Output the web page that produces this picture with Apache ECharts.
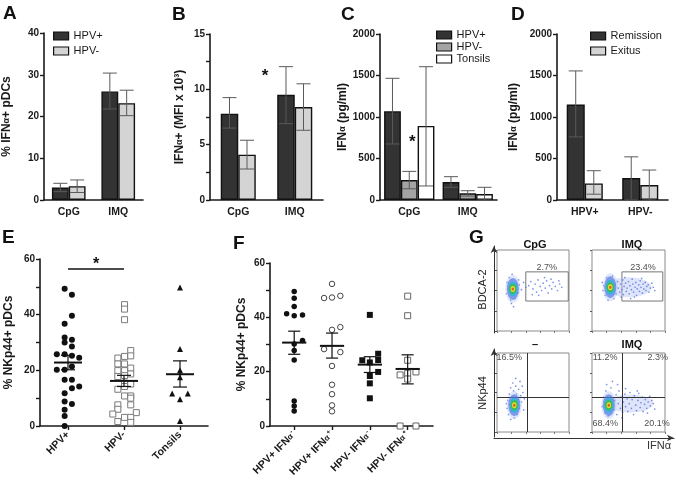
<!DOCTYPE html>
<html><head><meta charset="utf-8">
<script src="https://cdn.jsdelivr.net/npm/echarts@6/dist/echarts.min.js"></script>
<style>html,body{margin:0;padding:0;background:#fff}#c{width:676px;height:484px}</style>
</head><body><div id="c"></div>
<script>
// ---------------- DATA ----------------
const barCats = ['CpG', 'IMQ'];
const aHpvPos = [3.0, 26.0];
const aHpvPosErr = [[2.0, 4.0], [21.8, 30.4]];
const aHpvNeg = [3.3, 23.2];
const aHpvNegErr = [[1.8, 4.8], [20.2, 26.3]];

const bHpvPos = [7.8, 9.5];
const bHpvPosErr = [[6.5, 9.25], [6.9, 12.05]];
const bHpvNeg = [4.1, 8.4];
const bHpvNegErr = [[2.8, 5.4], [6.3, 10.5]];

const cHpvPos = [1070, 217];
const cHpvPosErr = [[675, 1466], [153, 281]];
const cHpvNeg = [240, 80];
const cHpvNegErr = [[135, 345], [48, 112]];
const cTonsils = [892, 72];
const cTonsilsErr = [[169, 1606], [0, 153]];

const dCats = ['HPV+', 'HPV-'];
const dRemission = [1150, 265];
const dRemissionErr = [[760, 1555], [10, 520]];
const dExitus = [200, 181];
const dExitusErr = [[70, 353], [0, 361]];

const eCats = ['HPV+', 'HPV-', 'Tonsils'];
// [jitter offset, value]
const eHpvPos = [[-0.06,49.3],[0.07,47.2],[0.07,39.6],[-0.06,36.7],[-0.06,31.8],[0.07,31.0],[-0.06,30.0],[0.07,28.6],
  [-0.2,25.8],[-0.06,25.8],[0.07,25.2],[0.2,24.5],[-0.2,20.2],[-0.06,20.2],[0.07,21.4],[0.2,14.2],[-0.06,16.6],
  [0.07,16.6],[0.07,13.6],[-0.06,11.8],[-0.06,8.8],[0.07,7.9],[-0.06,5.8],[-0.06,3.6],[-0.06,0]];
const eHpvNeg = [[0.01,43.6],[0.01,42.0],[0.01,38.2],[0.12,27.1],[0.12,25.2],[-0.11,24.4],[0.01,25.0],[-0.11,22.3],
  [0.01,22.3],[0.12,20.8],[-0.11,19.9],[0.01,19.9],[-0.11,17.8],[0.01,18.1],[0.12,18.7],[0.01,15.4],[0.12,15.1],
  [-0.11,13.2],[0.01,14.2],[0.01,10.8],[0.12,10.8],[0.12,10.0],[0.12,7.6],[-0.11,7.6],[-0.11,6.0],[-0.2,4.3],
  [0.22,4.8],[0.01,3.1],[0.12,3.1],[-0.11,1.6],[0.12,1.3]];
const eTonsils = [[0,49.8],[0,27.7],[0,20.0],[0,17.5],[-0.14,11.7],[0.14,11.7],[0,9.6],[0,1.8]];
const eMean = [22.8, 16.2, 18.6];
const eSemLo = [20.2, 14.2, 14.0];
const eSemHi = [25.4, 18.2, 23.4];
const eSig = [1, 2, 56.5];

const fCats = ['HPV+ IFNα-', 'HPV+ IFNα+', 'HPV- IFNα-', 'HPV- IFNα+'];
const fPosNeg = [[0,49.5],[0,47.0],[0,44.0],[-0.2,41.3],[0,40.6],[0.22,40.9],[0.22,31.5],[0,30.2],[0,27.8],[0,24.3],[0,9.2],[0,7.4],[0,5.5]];
const fPosPos = [[0,52.3],[-0.21,47.1],[0,47.3],[0.22,47.9],[0,35.4],[0.22,36.4],[-0.21,28.3],[0.22,27.2],[0,22.1],[0,15.2],[0,11.7],[0,7.6],[0,5.4]];
const fNegNeg = [[0,40.9],[0.22,26.6],[-0.2,24.2],[0,23.4],[0.22,24.3],[0.22,19.9],[0,18.4],[0,15.7],[0,10.2]];
const fNegPos = [[0,47.8],[0,40.6],[0,24.2],[-0.2,18.8],[0,19.4],[0.22,19.9],[0,17.3],[-0.2,0],[0.22,0]];
const fMean = [30.7, 29.5, 22.6, 21.0];
const fSemLo = [26.4, 25.0, 19.7, 15.5];
const fSemHi = [34.9, 34.2, 25.5, 26.2];

// flow cytometry panels (axes 0..100)
const gCores = { cpg: [[22,52]], imqTop: [[25,54]], ctrl: [[24,34]], imqBot: [[23,34]] };
const gHaze = { imqTop: [[50,54]], imqBot: [[52,36]] };
const gDots = {
  cpg: [[44,56],[47,61],[50,52],[53,58],[55,48],[57,63],[60,55],[62,50],[64,59],[67,53],[69,62],[71,47],[73,56],[76,52],[78,60],[81,55],[84,50],[87,58],[90,54],[58,44],[66,66],[49,45],[75,64],[86,62],[31,57],[34,51],[37,60],[40,54],[29,47],[30,63],[13,46],[14,60],[19,38],[25,40],[27,58],[21,70],[17,66],[23,30],[20,34]],
  imqTop: [[30,50],[32,57],[33,46],[35,61],[36,53],[38,48],[39,58],[41,51],[42,63],[43,45],[44,55],[46,59],[47,49],[48,53],[50,61],[51,46],[52,56],[54,51],[55,64],[56,58],[57,48],[59,54],[60,60],[61,44],[62,52],[64,57],[65,49],[66,62],[67,54],[69,47],[70,58],[71,52],[73,60],[74,50],[75,55],[77,57],[78,48],[80,53],[82,59],[84,54],[86,50],[45,66],[58,42],[68,65],[40,42],[53,40],[15,50],[14,60],[18,44],[20,66],[28,68],[22,38],[16,56],[30,40]],
  ctrl: [[14,30],[15,40],[16,22],[17,48],[18,35],[19,56],[20,27],[21,44],[22,62],[23,52],[26,58],[27,48],[28,22],[29,41],[30,54],[31,30],[32,64],[33,46],[34,38],[36,50],[37,28],[26,68],[24,18],[38,42],[13,36],[19,16],[29,35],[35,58]],
  imqBot: [[14,32],[16,44],[18,24],[19,52],[20,60],[22,20],[26,56],[28,64],[30,28],[31,40],[33,47],[34,22],[36,36],[37,52],[39,30],[40,44],[42,25],[43,38],[45,48],[46,32],[48,42],[49,26],[51,36],[52,50],[54,30],[55,41],[57,22],[58,46],[60,34],[61,27],[63,40],[64,49],[66,31],[67,37],[69,44],[70,26],[72,35],[73,41],[75,30],[77,38],[79,45],[80,33],[82,40],[84,36],[86,29],[46,55],[62,52],[76,24],[35,60],[41,18]]
};
const gGateCpg = [[40, 37], [99, 73]];
const gGateImq = [[41, 37], [97, 73]];
const gQuadCtrl = [42, 44];
const gQuadImq = [41, 44];
const gLabels = {
  cpg: [[69, 78, '2.7%']],
  imqTop: [[70, 78, '23.4%']],
  ctrl: [[17, 94, '16.5%']],
  imqBot: [[18, 94, '11.2%'], [90, 94, '2.3%'], [18, 11, '68.4%'], [89, 11, '20.1%']]
};

// ---------------- HELPERS ----------------
const FF = '"Liberation Sans", Arial, Helvetica, sans-serif';
const INK = '#1a1a1a';

function yVal(gi, max, interval, every, name, nameGap) {
  return {
    gridIndex: gi, type: 'value', min: 0, max: max, interval: interval,
    axisLine: { show: true, lineStyle: { color: INK, width: 1.6 } },
    axisTick: { show: true, length: 4, lineStyle: { color: INK, width: 1.4 } },
    splitLine: { show: false },
    axisLabel: { color: INK, fontFamily: FF, fontWeight: 'bold', fontSize: 10, margin: 5,
      formatter: v => (Math.round(v * 100) % Math.round(every * 100) === 0 ? String(v) : '') },
    name: name, nameLocation: 'middle', nameGap: nameGap, nameRotate: 90,
    nameTextStyle: { color: INK, fontFamily: FF, fontWeight: 'bold', fontSize: 12,
      rich: { a: { fontFamily: FF, fontWeight: 'bold', fontSize: 9, color: INK } } }
  };
}
function xCat(gi, data) {
  return {
    gridIndex: gi, type: 'category', data: data,
    axisLine: { lineStyle: { color: INK, width: 1.6 } },
    axisTick: { alignWithLabel: true, length: 4, lineStyle: { color: INK, width: 1.4 } },
    axisLabel: { color: INK, fontFamily: FF, fontWeight: 'bold', fontSize: 10.5, margin: 7 }
  };
}
function xScat(gi, min, max, names, fontSize, rich) {
  const cv = names.map((n, i) => i + 1);
  return {
    gridIndex: gi, type: 'value', min: min, max: max,
    axisLine: { show: true, lineStyle: { color: INK, width: 1.6 } },
    axisTick: { show: true, length: 4, customValues: cv, lineStyle: { color: INK, width: 1.4 } },
    splitLine: { show: false },
    axisLabel: { customValues: cv, rotate: 45, margin: 7, color: INK, fontFamily: FF, fontWeight: 'bold', fontSize: fontSize,
      formatter: v => names[Math.round(v) - 1], rich: rich }
  };
}
function bar(name, gi, data, color, gap) {
  return { type: 'bar', name: name, xAxisIndex: gi, yAxisIndex: gi, data: data, barGap: '0%',
    barCategoryGap: (gap * 100) + '%', z: 2,
    itemStyle: { color: color, borderColor: '#111', borderWidth: 1.4 } };
}
function err(gi, errs, k, n, gap) {
  return {
    type: 'custom', xAxisIndex: gi, yAxisIndex: gi, z: 5, silent: true,
    encode: { x: 0, y: [1, 2] },
    data: errs.map((e, i) => [i, e[0], e[1]]),
    renderItem: (params, api) => {
      const i = api.value(0), lo = api.value(1), hi = api.value(2);
      const pLo = api.coord([i, lo]), pHi = api.coord([i, hi]);
      const band = api.size([1, 0])[0];
      const bw = band * (1 - gap) / n;
      const x = pLo[0] + (k - (n - 1) / 2) * bw;
      const cw = 7;
      const st = { stroke: '#5a5a5a', lineWidth: 1 };
      return { type: 'group', children: [
        { type: 'line', shape: { x1: x, y1: pLo[1], x2: x, y2: pHi[1] }, style: st },
        { type: 'line', shape: { x1: x - cw, y1: pHi[1], x2: x + cw, y2: pHi[1] }, style: st },
        { type: 'line', shape: { x1: x - cw, y1: pLo[1], x2: x + cw, y2: pLo[1] }, style: st }
      ] };
    }
  };
}
function pts(gi, cat, arr, symbol, size, fill, stroke, bw) {
  return { type: 'scatter', xAxisIndex: gi, yAxisIndex: gi, symbol: symbol, symbolSize: size, z: 3,
    data: arr.map(p => [cat + p[0], p[1]]),
    itemStyle: { color: fill, borderColor: stroke, borderWidth: bw, opacity: 1 } };
}
function meanSem(gi, mean, lo, hi, halfMean, halfCap) {
  return {
    type: 'custom', xAxisIndex: gi, yAxisIndex: gi, z: 6, silent: true,
    encode: { x: 0, y: [1, 2, 3] },
    data: mean.map((m, i) => [i + 1, m, lo[i], hi[i]]),
    renderItem: (params, api) => {
      const c = api.value(0), m = api.value(1), l = api.value(2), h = api.value(3);
      const pm = api.coord([c, m]), pl = api.coord([c, l]), ph = api.coord([c, h]);
      const hw = api.size([halfMean, 0])[0], cw = api.size([halfCap, 0])[0];
      const st = { stroke: '#111', lineWidth: 1.2 };
      return { type: 'group', children: [
        { type: 'line', shape: { x1: pm[0] - hw, y1: pm[1], x2: pm[0] + hw, y2: pm[1] }, style: { stroke: '#111', lineWidth: 2 } },
        { type: 'line', shape: { x1: pl[0], y1: pl[1], x2: ph[0], y2: ph[1] }, style: st },
        { type: 'line', shape: { x1: ph[0] - cw, y1: ph[1], x2: ph[0] + cw, y2: ph[1] }, style: st },
        { type: 'line', shape: { x1: pl[0] - cw, y1: pl[1], x2: pl[0] + cw, y2: pl[1] }, style: st }
      ] };
    }
  };
}
function flowX(gi) {
  return { gridIndex: gi, type: 'value', min: 0, max: 100, interval: 20, axisLine: { show: false },
    axisLabel: { show: false }, splitLine: { show: false },
    axisTick: { show: true, inside: false, length: 2, lineStyle: { color: '#777' } } };
}
function flowY(gi) {
  return { gridIndex: gi, type: 'value', min: 0, max: 100, interval: 25, axisLine: { show: false },
    axisLabel: { show: false }, splitLine: { show: false },
    axisTick: { show: true, inside: false, length: 2, lineStyle: { color: '#555' } } };
}
const coreLayers = [
  { w: 15, h: 28, c: '#b2c2f2', o: 0.4 },
  { w: 12, h: 22, c: '#5878e2', o: 0.7 },
  { w: 9, h: 15, c: '#2fb6d6', o: 0.95 },
  { w: 7, h: 10, c: '#3dbb4a', o: 1 },
  { w: 4.5, h: 6, c: '#e0e030', o: 1 },
  { w: 2.5, h: 3, c: '#e65a2a', o: 1 }
];
function flowSeries(gi, key, hazeSize) {
  const s = [];
  if (gHaze[key]) {
    s.push({ type: 'scatter', xAxisIndex: gi, yAxisIndex: gi, data: gHaze[key], symbolSize: hazeSize, z: 2, silent: true,
      itemStyle: { color: '#b5c4f2', opacity: 0.45 } });
  }
  s.push({ type: 'scatter', xAxisIndex: gi, yAxisIndex: gi, data: gDots[key], symbolSize: 1.7, z: 3, silent: true,
    itemStyle: { color: '#4d6fe0', opacity: 0.75 } });
  coreLayers.forEach((L, j) => {
    s.push({ type: 'scatter', xAxisIndex: gi, yAxisIndex: gi, data: gCores[key], symbolSize: [L.w, L.h], z: 4 + j, silent: true,
      itemStyle: { color: L.c, opacity: L.o } });
  });
  s.push({ type: 'scatter', xAxisIndex: gi, yAxisIndex: gi, data: gLabels[key], symbolSize: 0, z: 12, silent: true,
    label: { show: true, position: 'inside', formatter: p => p.value[2], color: '#222', fontFamily: FF, fontSize: 9 } });
  return s;
}

// ---------------- CHART ----------------
const chart = echarts.init(document.getElementById('c'), null, { width: 676, height: 484 });

const gapA = 0.32, gapB = 0.38, gapC = 0.14, gapD = 0.35;
const legendBase = { orient: 'vertical', icon: 'rect', itemWidth: 15, itemHeight: 8, selectedMode: false, padding: 0,
  textStyle: { fontFamily: FF, fontSize: 11, color: INK, lineHeight: 12 },
  itemStyle: { borderColor: '#111', borderWidth: 1.2 } };

const fNames = fCats.map(s => s.replace('IFNα', 'IFN{a|α}').replace(/([+-])$/, '{s|$1}'));

const option = {
  animation: false,
  backgroundColor: '#fff',
  grid: [
    { left: 40, top: 33, width: 103, height: 167 },
    { left: 210, top: 34, width: 113, height: 166 },
    { left: 380, top: 34, width: 117, height: 166 },
    { left: 557, top: 34, width: 111, height: 166 },
    { left: 40, top: 259, width: 168, height: 167 },
    { left: 270, top: 263, width: 163, height: 163 },
    { left: 497, top: 250, width: 72, height: 81, show: true, borderColor: '#8a8a8a', borderWidth: 1 },
    { left: 592, top: 250, width: 73, height: 81, show: true, borderColor: '#8a8a8a', borderWidth: 1 },
    { left: 497, top: 353, width: 72, height: 79, show: true, borderColor: '#8a8a8a', borderWidth: 1 },
    { left: 592, top: 353, width: 73, height: 79, show: true, borderColor: '#8a8a8a', borderWidth: 1 },
    { left: 494, top: 246, width: 1, height: 87 },
    { left: 494, top: 349, width: 1, height: 88 },
    { left: 494, top: 437, width: 180, height: 1 }
  ],
  xAxis: [
    xCat(0, barCats), xCat(1, barCats), xCat(2, barCats), xCat(3, dCats),
    xScat(4, 0.5, 3.5, eCats, 10.5, {}),
    xScat(5, 0.36, 4.67, fNames, 10.5, {
      a: { fontFamily: FF, fontWeight: 'bold', fontSize: 8, color: INK },
      s: { fontFamily: FF, fontWeight: 'bold', fontSize: 6.5, color: INK, padding: [0, 0, 6, 1] } }),
    flowX(6), flowX(7), flowX(8), flowX(9),
    { gridIndex: 10, type: 'value', show: false },
    { gridIndex: 11, type: 'value', show: false },
    { gridIndex: 12, type: 'value', min: 0, max: 1, axisLabel: { show: false }, axisTick: { show: false }, splitLine: { show: false },
      axisLine: { show: true, symbol: ['none', 'arrow'], symbolSize: [5, 7], lineStyle: { color: '#333', width: 1 } } }
  ],
  yAxis: [
    yVal(0, 40, 10, 10, '% IFN{a|α}+ pDCs', 31),
    yVal(1, 15, 2.5, 5, 'IFN{a|α}+ (MFI x 10³)', 24),
    yVal(2, 2000, 500, 500, 'IFN{a|α} (pg/ml)', 30),
    yVal(3, 2000, 500, 500, 'IFN{a|α} (pg/ml)', 37),
    yVal(4, 60, 10, 20, '% NKp44+ pDCs', 25),
    yVal(5, 60, 10, 20, '% NKp44+ pDCs', 22),
    flowY(6), flowY(7), flowY(8), flowY(9),
    { gridIndex: 10, type: 'value', min: 0, max: 1, axisLabel: { show: false }, axisTick: { show: false }, splitLine: { show: false },
      axisLine: { show: true, symbol: ['none', 'arrow'], symbolSize: [5, 7], lineStyle: { color: '#333', width: 1 } },
      name: 'BDCA-2', nameLocation: 'middle', nameGap: 6, nameTextStyle: { fontFamily: FF, fontSize: 11, color: '#222' } },
    { gridIndex: 11, type: 'value', min: 0, max: 1, axisLabel: { show: false }, axisTick: { show: false }, splitLine: { show: false },
      axisLine: { show: true, symbol: ['none', 'arrow'], symbolSize: [5, 7], lineStyle: { color: '#333', width: 1 } },
      name: 'NKp44', nameLocation: 'middle', nameGap: 6, nameTextStyle: { fontFamily: FF, fontSize: 11, color: '#222' } },
    { gridIndex: 12, type: 'value', show: false }
  ],
  legend: [
    Object.assign({}, legendBase, { left: 53, top: 30, itemGap: 3, data: ['HPV+', 'HPV-'] }),
    Object.assign({}, legendBase, { left: 436, top: 29, itemGap: 0, data: ['HPV+ ', 'HPV- ', 'Tonsils'] }),
    Object.assign({}, legendBase, { left: 590, top: 30, itemGap: 3, data: ['Remission', 'Exitus'] })
  ],
  graphic: [
    ['A', 3, 4], ['B', 172, 5], ['C', 341, 5], ['D', 511, 5], ['E', 2, 228], ['F', 233, 234], ['G', 469, 228]
  ].map(t => ({ type: 'text', left: t[1], top: t[2], style: { text: t[0], font: 'bold 19px ' + FF, fill: '#111' } }))
  .concat([
    ['CpG', 535, 239], ['IMQ', 632, 239], ['–', 535, 339], ['IMQ', 632, 339]
  ].map(t => ({ type: 'text', x: t[1], y: t[2], style: { text: t[0], font: 'bold 11px ' + FF, fill: '#111', align: 'center', verticalAlign: 'top' } })))
  .concat([{ type: 'text', x: 659, y: 440, style: { text: 'IFNα', font: '11px ' + FF, fill: '#333', align: 'center', verticalAlign: 'top' } }]),
  series: [
    // A
    bar('HPV+', 0, aHpvPos, '#333333', gapA), bar('HPV-', 0, aHpvNeg, '#d4d4d4', gapA),
    err(0, aHpvPosErr, 0, 2, gapA), err(0, aHpvNegErr, 1, 2, gapA),
    // B
    bar('B HPV+', 1, bHpvPos, '#333333', gapB),
    Object.assign(bar('B HPV-', 1, bHpvNeg, '#d4d4d4', gapB), {
      markPoint: { symbol: 'circle', symbolSize: 1, itemStyle: { color: 'rgba(0,0,0,0)' },
        label: { show: true, formatter: '*', offset: [18, 0], fontSize: 17, fontWeight: 'bold', color: '#111', fontFamily: FF },
        data: [{ coord: [0, 11.2] }] } }),
    err(1, bHpvPosErr, 0, 2, gapB), err(1, bHpvNegErr, 1, 2, gapB),
    // C
    bar('HPV+ ', 2, cHpvPos, '#333333', gapC),
    Object.assign(bar('HPV- ', 2, cHpvNeg, '#a4a4a4', gapC), {
      markPoint: { symbol: 'circle', symbolSize: 1, itemStyle: { color: 'rgba(0,0,0,0)' },
        label: { show: true, formatter: '*', offset: [3, 0], fontSize: 17, fontWeight: 'bold', color: '#111', fontFamily: FF },
        data: [{ coord: [0, 690] }] } }),
    bar('Tonsils', 2, cTonsils, '#ffffff', gapC),
    err(2, cHpvPosErr, 0, 3, gapC), err(2, cHpvNegErr, 1, 3, gapC), err(2, cTonsilsErr, 2, 3, gapC),
    // D
    bar('Remission', 3, dRemission, '#333333', gapD), bar('Exitus', 3, dExitus, '#d4d4d4', gapD),
    err(3, dRemissionErr, 0, 2, gapD), err(3, dExitusErr, 1, 2, gapD),
    // E
    Object.assign(pts(4, 1, eHpvPos, 'circle', 6, '#111', '#111', 0), {
      markLine: { silent: true, symbol: 'none', lineStyle: { color: '#111', width: 1.5, type: 'solid' },
        label: { show: true, position: 'middle', formatter: '*', distance: -4, fontSize: 16, fontWeight: 'bold', color: '#111', fontFamily: FF },
        data: [[{ coord: [eSig[0], eSig[2]] }, { coord: [eSig[1], eSig[2]] }]] } }),
    pts(4, 2, eHpvNeg, 'rect', 6, '#ffffff', '#7a7a7a', 1),
    pts(4, 3, eTonsils, 'triangle', 6, '#111', '#111', 0),
    meanSem(4, eMean, eSemLo, eSemHi, 0.25, 0.125),
    // F
    pts(5, 1, fPosNeg, 'circle', 5.5, '#111', '#111', 0),
    pts(5, 2, fPosPos, 'circle', 5.5, '#ffffff', '#444', 1),
    pts(5, 3, fNegNeg, 'rect', 6, '#111', '#111', 0),
    pts(5, 4, fNegPos, 'rect', 6, '#ffffff', '#666', 1),
    meanSem(5, fMean, fSemLo, fSemHi, 0.32, 0.16)
  ]
};

// G panels
option.series = option.series.concat(
  flowSeries(6, 'cpg', null),
  flowSeries(7, 'imqTop', [46, 20]),
  flowSeries(8, 'ctrl', null),
  flowSeries(9, 'imqBot', [46, 18])
);
// gates and quadrant lines
option.series.push(
  { type: 'scatter', xAxisIndex: 6, yAxisIndex: 6, data: [], markArea: { silent: true,
      itemStyle: { color: 'rgba(0,0,0,0)', borderColor: '#777', borderWidth: 1 },
      data: [[{ coord: gGateCpg[0] }, { coord: gGateCpg[1] }]] } },
  { type: 'scatter', xAxisIndex: 7, yAxisIndex: 7, data: [], markArea: { silent: true,
      itemStyle: { color: 'rgba(0,0,0,0)', borderColor: '#777', borderWidth: 1 },
      data: [[{ coord: gGateImq[0] }, { coord: gGateImq[1] }]] } },
  { type: 'scatter', xAxisIndex: 8, yAxisIndex: 8, data: [], markLine: { silent: true, symbol: 'none', label: { show: false },
      lineStyle: { color: '#333', width: 1, type: 'solid' }, data: [{ xAxis: gQuadCtrl[0] }, { yAxis: gQuadCtrl[1] }] } },
  { type: 'scatter', xAxisIndex: 9, yAxisIndex: 9, data: [], markLine: { silent: true, symbol: 'none', label: { show: false },
      lineStyle: { color: '#333', width: 1, type: 'solid' }, data: [{ xAxis: gQuadImq[0] }, { yAxis: gQuadImq[1] }] } }
);

chart.setOption(option);
</script>
</body></html>
